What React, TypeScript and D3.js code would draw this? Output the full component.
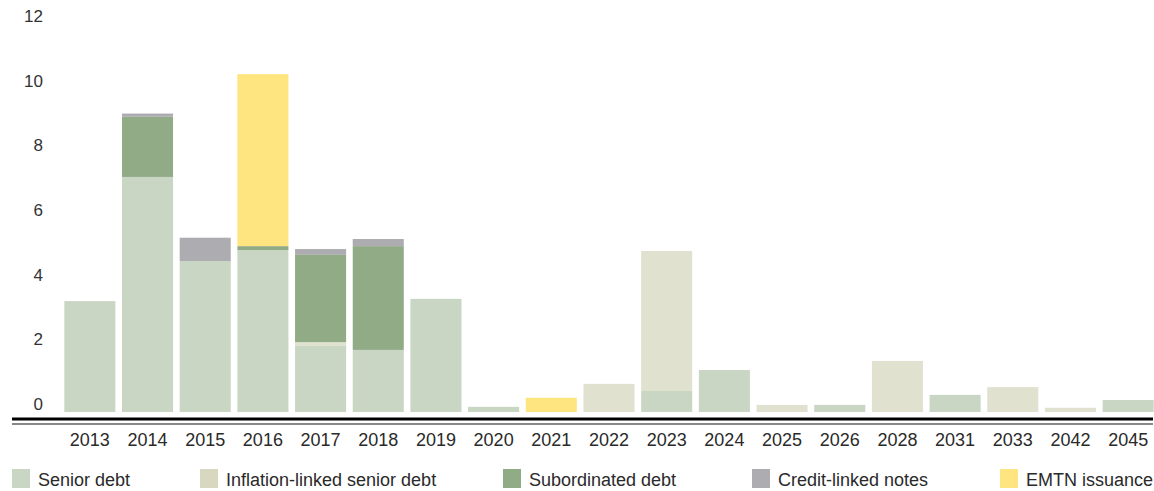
import React from "react";
import * as d3 from "d3";

const years = ["2013","2014","2015","2016","2017","2018","2019","2020","2021","2022","2023","2024","2025","2026","2028","2031","2033","2042","2045"];
const seniorDebt =       [3.43, 7.27, 4.67, 5.01, 2.04, 1.92, 3.5, 0.16, 0,    0,    0.65, 1.3, 0,    0.22, 0,    0.53, 0,    0,    0.37];
const inflationLinked =  [0,    0,    0,    0,    0.12, 0,    0,   0,    0,    0.87, 4.33, 0,   0.22, 0,    1.58, 0,    0.77, 0.13, 0];
const subordinatedDebt = [0,    1.86, 0,    0.12, 2.7,  3.21, 0,   0,    0,    0,    0,    0,   0,    0,    0,    0,    0,    0,    0];
const creditLinked =     [0,    0.1,  0.72, 0,    0.18, 0.22, 0,   0,    0,    0,    0,    0,   0,    0,    0,    0,    0,    0,    0];
const emtnIssuance =     [0,    0,    0,    5.32, 0,    0,    0,   0,    0.44, 0,    0,    0,   0,    0,    0,    0,    0,    0,    0];
const yTicks = [0, 2, 4, 6, 8, 10, 12];

const seriesNames = ["Senior debt", "Inflation-linked senior debt", "Subordinated debt", "Credit-linked notes", "EMTN issuance"];
const seriesKeys = ["senior", "inflation", "subordinated", "credit", "emtn"];
const barColors = ["#c9d6c3", "#e1e1d0", "#91ab87", "#adacb1", "#ffe57f"];
const swatchColors = ["#c9d6c3", "#d8d8c0", "#91ab87", "#adacb1", "#ffe57f"];
const legendX = [12, 200, 503, 752, 1000];

export default function App() {
  const W = 1154, H = 491;
  const rows = years.map((y, i) => ({
    year: y,
    senior: seniorDebt[i],
    inflation: inflationLinked[i],
    subordinated: subordinatedDebt[i],
    credit: creditLinked[i],
    emtn: emtnIssuance[i],
  }));
  const stack = d3.stack<any>().keys(seriesKeys);
  const layers = stack(rows);
  const x = d3.scaleBand<string>().domain(years).range([61, 1157]).paddingInner(0.115).paddingOuter(0.0575);
  const y = d3.scaleLinear().domain([0, 12]).range([412, 24]);
  const font = "'Liberation Sans', Arial, Helvetica, sans-serif";

  return (
    <svg width={W} height={H} style={{ position: "absolute", left: 0, top: 0, display: "block" }}>
      <rect x={0} y={0} width={W} height={H} fill="#fff" />
      {yTicks.map((t) => (
        <text key={t} x={43} y={y(t) - 2} textAnchor="end" fontFamily={font} fontSize={17} fill="#333">{t}</text>
      ))}
      {layers.map((layer, li) => (
        <g key={seriesKeys[li]} fill={barColors[li]}>
          {layer.map((d, i) => {
            const h = y(d[0]) - y(d[1]);
            if (h <= 0) return null;
            return <rect key={i} x={x(years[i])} y={y(d[1])} width={x.bandwidth()} height={h} />;
          })}
        </g>
      ))}
      <line x1={12} x2={1153} y1={419} y2={419} stroke="#000" strokeWidth={3} />
      <line x1={12} x2={1153} y1={424} y2={424} stroke="#888" strokeWidth={2} />
      {years.map((yr) => (
        <text key={yr} x={(x(yr) as number) + x.bandwidth() / 2} y={446} textAnchor="middle" fontFamily={font} fontSize={18} fill="#2a2a2a">{yr}</text>
      ))}
      {seriesNames.map((n, i) => (
        <g key={n}>
          <rect x={legendX[i]} y={469} width={18} height={19} fill={swatchColors[i]} />
          <text x={legendX[i] + 26} y={486} fontFamily={font} fontSize={18} fill="#2a2a2a">{n}</text>
        </g>
      ))}
    </svg>
  );
}
